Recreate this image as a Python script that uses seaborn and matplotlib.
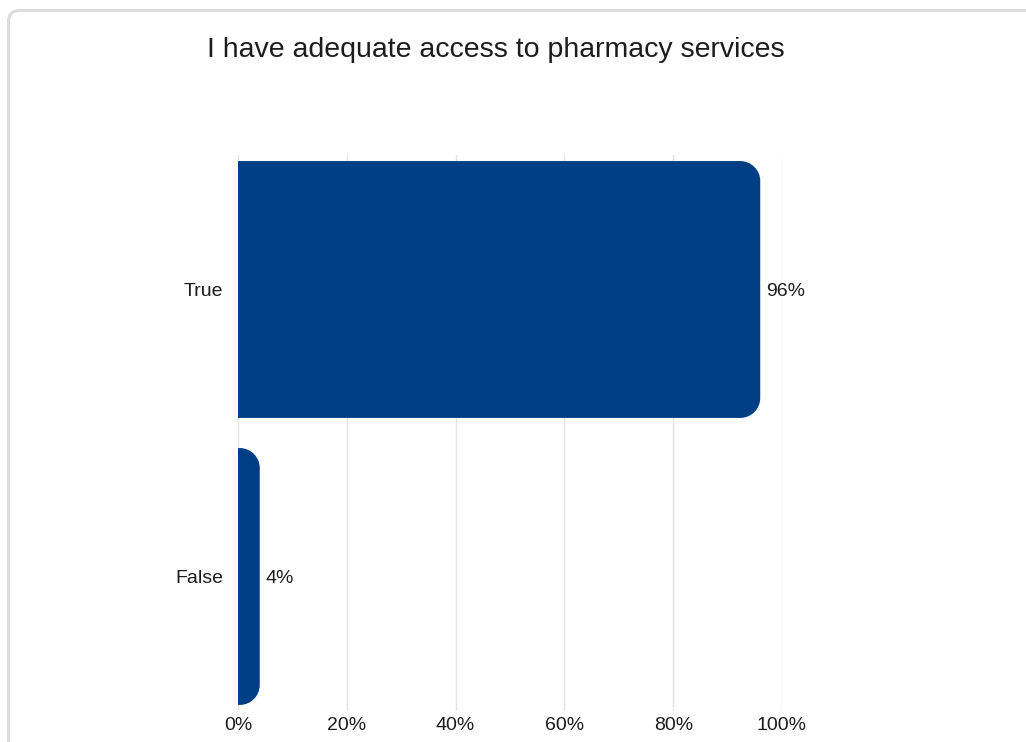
import matplotlib
matplotlib.use("Agg")
import matplotlib.pyplot as plt
from matplotlib.path import Path
from matplotlib.patches import PathPatch, FancyBboxPatch
from matplotlib.transforms import IdentityTransform
import seaborn as sns
import pandas as pd

# Survey answers and their share of responses (%)
answers = ["True", "False"]
shares = [96, 4]
tick_values = [0, 20, 40, 60, 80, 100]
tick_labels = ["0%", "20%", "40%", "60%", "80%", "100%"]
title = "I have adequate access to pharmacy services"

BAR_COLOR = "#003f84"
TEXT_COLOR = "#1c1c1c"
GRID_COLOR = "#e3e3e3"

sns.set_theme(style="white")
plt.rcParams["font.family"] = ["Liberation Sans", "DejaVu Sans"]

W, H = 1026, 742
fig = plt.figure(figsize=(W / 100, H / 100), dpi=100)

# axes placement in pixels (left, top, right, bottom)
ax_l, ax_t, ax_r, ax_b = 238, 154.6, 782, 711.4
ax = fig.add_axes([ax_l / W, 1 - ax_b / H, (ax_r - ax_l) / W, (ax_b - ax_t) / H])

df = pd.DataFrame({"answer": answers, "share": shares})
sns.barplot(data=df, x="share", y="answer", orient="h", color=BAR_COLOR,
            width=0.895, ax=ax, saturation=1)

ax.set_xlim(0, 100)
ax.set_ylim(1.47, -0.47)

# replace plain rectangles with bars rounded on their value end
px_per_x = (ax_r - ax_l) / 100.0
px_per_y = (ax_b - ax_t) / 1.94
radius_px = 20
k = 0.5523
for bar in list(ax.patches):
    x0, y0 = bar.get_x(), bar.get_y()
    w, h = bar.get_width(), bar.get_height()
    x1, y1 = x0 + w, y0 + h
    rx = min(radius_px / px_per_x, w)
    ry = radius_px / px_per_y
    verts = [
        (x0, y0), (x1 - rx, y0),
        (x1 - rx + k * rx, y0), (x1, y0 + ry - k * ry), (x1, y0 + ry),
        (x1, y1 - ry),
        (x1, y1 - ry + k * ry), (x1 - rx + k * rx, y1), (x1 - rx, y1),
        (x0, y1), (x0, y0),
    ]
    codes = [Path.MOVETO, Path.LINETO,
             Path.CURVE4, Path.CURVE4, Path.CURVE4,
             Path.LINETO,
             Path.CURVE4, Path.CURVE4, Path.CURVE4,
             Path.LINETO, Path.CLOSEPOLY]
    ax.add_patch(PathPatch(Path(verts, codes), facecolor=BAR_COLOR,
                           edgecolor="none", zorder=3))
    bar.remove()

# value labels after each bar
for i, v in enumerate(shares):
    ax.text(v + 1.0, i + 0.008, f"{v}%", va="center", ha="left",
            fontsize=14, color=TEXT_COLOR, zorder=4)

ax.set_xticks(tick_values)
ax.set_xticklabels(tick_labels)
ax.grid(axis="x", color=GRID_COLOR, linewidth=1.0, zorder=0)
ax.set_axisbelow(True)
ax.tick_params(axis="both", length=0, labelsize=14, colors=TEXT_COLOR)
ax.tick_params(axis="x", pad=4)
ax.tick_params(axis="y", pad=10.5)
ax.set_xlabel("")
ax.set_ylabel("")
for s in ax.spines.values():
    s.set_visible(False)

fig.text(496 / W, 1 - 50 / H, title, ha="center", va="center",
         fontsize=20.5, color=TEXT_COLOR)

# card outline around the chart
card = FancyBboxPatch((8.5, -200), 1300, H - 10.5 + 200,
                      boxstyle="round,pad=0,rounding_size=11",
                      transform=IdentityTransform(), facecolor="none",
                      edgecolor="#dcdcdc", linewidth=2.2)
fig.patches.append(card)

fig.savefig("out.png", dpi=100)
